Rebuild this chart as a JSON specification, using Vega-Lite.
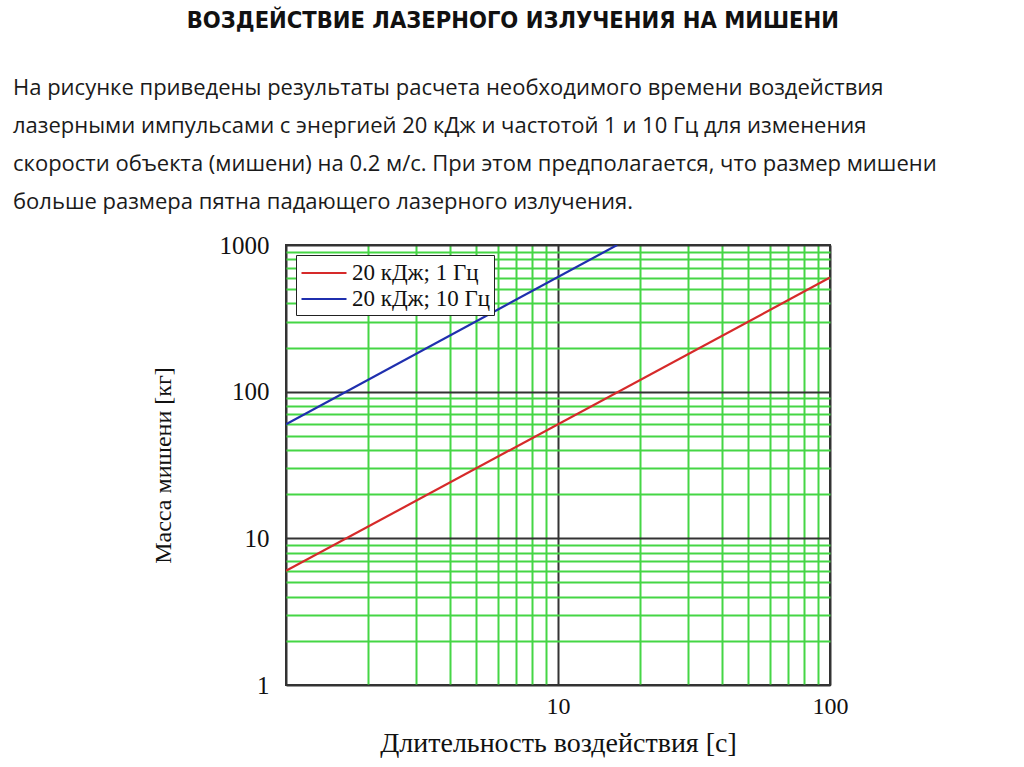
{
  "$schema": "https://vega.github.io/schema/vega-lite/v6.json",
  "background": "white",
  "padding": {"left": 12, "top": 8, "right": 5, "bottom": 5},
  "title": {
    "text": "ВОЗДЕЙСТВИЕ ЛАЗЕРНОГО ИЗЛУЧЕНИЯ НА МИШЕНИ",
    "font": "Liberation Sans Narrow, DejaVu Sans Condensed, sans-serif",
    "fontSize": 23.5,
    "fontWeight": "bold",
    "color": "#111111",
    "anchor": "middle",
    "dx": 38,
    "offset": 44
  },
  "vconcat": [
    {
      "title": {
        "text": [
          "На рисунке приведены результаты расчета необходимого времени воздействия",
          "лазерными импульсами с энергией 20 кДж и частотой 1 и 10 Гц для изменения",
          "скорости объекта (мишени) на 0.2 м/с. При этом предполагается, что размер мишени",
          "больше размера пятна падающего лазерного излучения."
        ],
        "font": "Open Sans, sans-serif",
        "fontSize": 22,
        "fontWeight": "normal",
        "color": "#1a1a1a",
        "anchor": "start",
        "frame": "group",
        "dx": -273,
        "lineHeight": 38,
        "offset": 19
      },
      "width": 544,
      "height": 440,
      "data": {
        "values": [
          {"t": 1, "m": 6, "series": "20 кДж; 1 Гц"},
          {"t": 100, "m": 600, "series": "20 кДж; 1 Гц"},
          {"t": 1, "m": 60, "series": "20 кДж; 10 Гц"},
          {"t": 16.5, "m": 1000, "series": "20 кДж; 10 Гц"}
        ]
      },
      "mark": {"type": "line", "strokeWidth": 2.2, "clip": true},
      "encoding": {
        "x": {
          "field": "t",
          "type": "quantitative",
          "scale": {"type": "log", "domain": [1, 100], "nice": false},
          "axis": {
            "title": "Длительность воздействия [с]",
            "values": [2, 3, 4, 5, 6, 7, 8, 9, 20, 30, 40, 50, 60, 70, 80, 90, 1, 10, 100],
            "format": "d",
            "labelExpr": "datum.value == 10 || datum.value == 100 ? datum.label : ''",
            "grid": true,
            "gridWidth": 2,
            "gridColor": {"condition": {"test": "datum.value == 1 || datum.value == 10 || datum.value == 100", "value": "#333333"}, "value": "#45d645"},
            "gridOpacity": 1,
            "ticks": false,
            "domain": false,
            "labelFont": "Liberation Serif, serif",
            "labelFontSize": 24,
            "labelColor": "#111111",
            "labelPadding": 9,
            "labelFlush": false,
            "labelOverlap": false,
            "titleFont": "Liberation Serif, serif",
            "titleFontSize": 28,
            "titleFontWeight": "normal",
            "titleColor": "#111111",
            "titlePadding": 11
          }
        },
        "y": {
          "field": "m",
          "type": "quantitative",
          "scale": {"type": "log", "domain": [1, 1000], "nice": false},
          "axis": {
            "title": "Масса мишени [кг]",
            "values": [2, 3, 4, 5, 6, 7, 8, 9, 20, 30, 40, 50, 60, 70, 80, 90, 200, 300, 400, 500, 600, 700, 800, 900, 1, 10, 100, 1000],
            "format": "d",
            "labelExpr": "datum.value == 1 || datum.value == 10 || datum.value == 100 || datum.value == 1000 ? datum.label : ''",
            "grid": true,
            "gridWidth": 2,
            "gridColor": {"condition": {"test": "datum.value == 1 || datum.value == 10 || datum.value == 100 || datum.value == 1000", "value": "#333333"}, "value": "#45d645"},
            "gridOpacity": 1,
            "ticks": false,
            "domain": false,
            "labelFont": "Liberation Serif, serif",
            "labelFontSize": 25,
            "labelColor": "#111111",
            "labelPadding": 17,
            "labelFlush": false,
            "labelOverlap": false,
            "titleFont": "Liberation Serif, serif",
            "titleFontSize": 24,
            "titleFontWeight": "normal",
            "titleColor": "#111111",
            "titlePadding": 44
          }
        },
        "color": {
          "field": "series",
          "type": "nominal",
          "scale": {"domain": ["20 кДж; 1 Гц", "20 кДж; 10 Гц"], "range": ["#d62a2a", "#1f2fae"]},
          "legend": {
            "title": null,
            "orient": "top-left",
            "offset": 10,
            "padding": 4,
            "strokeColor": "#222222",
            "fillColor": "white",
            "symbolType": "M-1.8,0H1.8",
            "symbolSize": 625,
            "symbolStrokeWidth": 2.2,
            "symbolOffset": 10,
            "labelFont": "Liberation Serif, serif",
            "labelFontSize": 23,
            "labelColor": "#111111",
            "labelOffset": 14,
            "rowPadding": 0
          }
        }
      }
    }
  ],
  "config": {
    "view": {"stroke": "#333333", "strokeWidth": 2}
  }
}
